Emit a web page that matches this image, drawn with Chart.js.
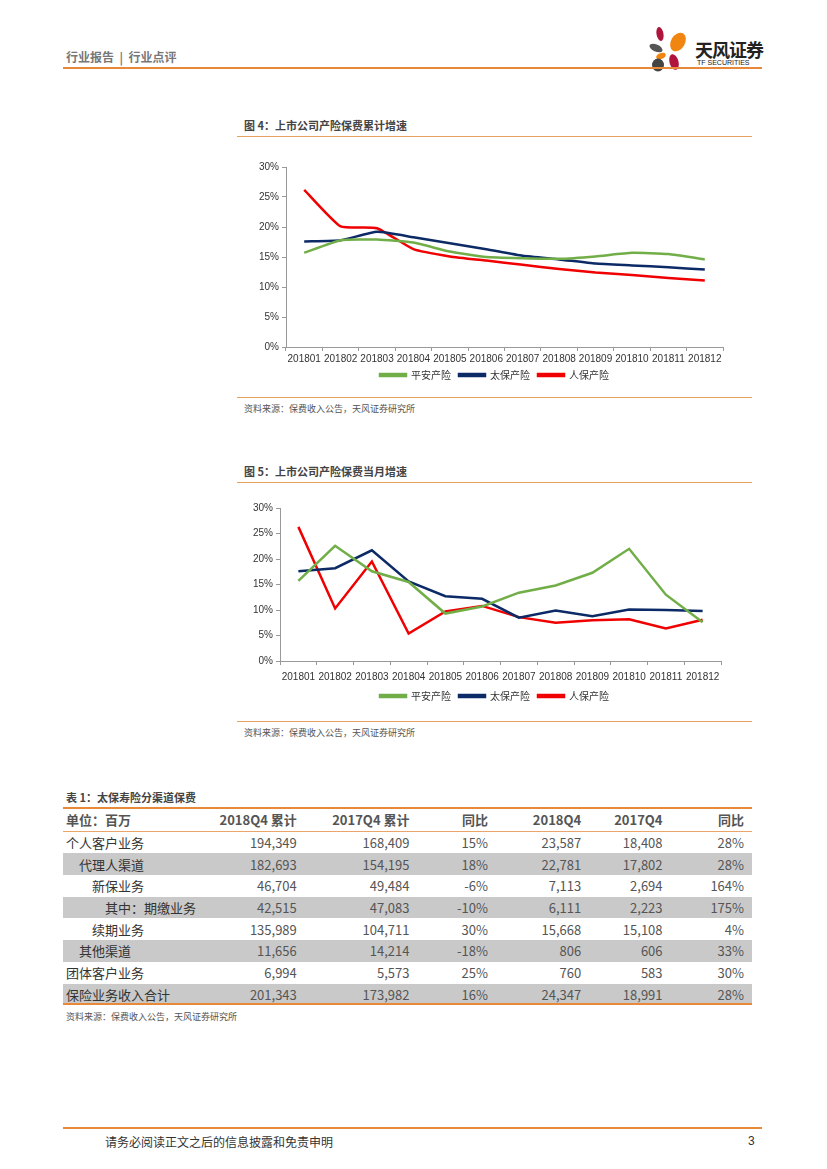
<!DOCTYPE html>
<html>
<head>
<meta charset="utf-8">
<script src="https://cdn.jsdelivr.net/npm/chart.js@4.4.1/dist/chart.umd.min.js"></script>
<style>
  body { margin: 0; width: 827px; height: 1169px; background: #fff; position: relative; font-family: "Liberation Sans", "Noto Sans CJK SC", sans-serif; overflow: hidden; }
  .abs { position: absolute; }
  .rule { position: absolute; height: 2px; background: #E8893A; }
  .thin { position: absolute; height: 1px; background: #E8A060; }
  .title { position: absolute; font-size: 11px; font-weight: bold; color: #444; font-family: "Noto Sans CJK SC", sans-serif; }
  .src { position: absolute; font-size: 9px; color: #555; font-family: "Noto Sans CJK SC", sans-serif; }
  .box { position: absolute; }
  table { border-collapse: collapse; position: absolute; left: 63px; top: 809px; width: 689px; font-family: "Liberation Sans Narrow", "Noto Sans CJK SC", sans-serif; font-size: 13px; color: #555; }
  td { height: 21.7px; padding: 0 8px 0 0; text-align: right; white-space: nowrap; }
  td.name { text-align: left; font-family: "Noto Sans CJK SC", sans-serif; color: #333; padding: 0; }
  tr.head td { font-weight: bold; color: #555; border-bottom: 1px solid #EBA46A; }
  tr.head td.name { color: #555; }
  tr.gray td { background: #C9C9C9; }
</style>
</head>
<body>
<!-- en-tête -->
<div class="abs" style="left:66px;top:48px;font-size:12px;font-weight:bold;color:#777;font-family:'Noto Sans CJK SC';">行业报告 &nbsp;|&nbsp; 行业点评</div>
<svg class="abs" style="left:646px;top:20px;" width="50" height="52">
  <ellipse cx="14" cy="14" rx="3.5" ry="7" fill="#B0143C" transform="rotate(-10 14 14)"/>
  <ellipse cx="32" cy="22" rx="7" ry="10" fill="#F0850F" transform="rotate(30 32 22)"/>
  <ellipse cx="10" cy="28" rx="7" ry="3.5" fill="#555" transform="rotate(25 10 28)"/>
  <ellipse cx="15" cy="36" rx="5" ry="3" fill="#F0850F" transform="rotate(-20 15 36)"/>
  <ellipse cx="28" cy="42" rx="4.5" ry="8" fill="#B0143C" transform="rotate(-15 28 42)"/>
  <ellipse cx="12" cy="45" rx="6" ry="6.5" fill="#444"/>
</svg>
<div class="abs" style="left:695px;top:36px;font-size:18px;font-weight:bold;color:#222;font-family:'Noto Sans CJK SC';letter-spacing:-1px;">天风证券</div>
<div class="abs" style="left:697px;top:59px;font-size:7px;color:#222;">TF SECURITIES</div>
<div class="rule" style="left:63px;top:67px;width:699px;"></div>

<!-- figure 4 -->
<div class="title" style="left:244px;top:117px;">图 4：上市公司产险保费累计增速</div>
<div class="thin" style="left:237px;top:136px;width:515px;"></div>
<div class="box" style="left:237px;top:150px;width:515px;height:240px;"><canvas id="chart1"></canvas></div>
<div class="thin" style="left:237px;top:397px;width:515px;"></div>
<div class="src" style="left:244px;top:402px;">资料来源：保费收入公告，天风证券研究所</div>

<!-- figure 5 -->
<div class="title" style="left:244px;top:463px;">图 5：上市公司产险保费当月增速</div>
<div class="thin" style="left:237px;top:482px;width:515px;"></div>
<div class="box" style="left:237px;top:491px;width:515px;height:220px;"><canvas id="chart2"></canvas></div>
<div class="thin" style="left:237px;top:721px;width:515px;"></div>
<div class="src" style="left:244px;top:726px;">资料来源：保费收入公告，天风证券研究所</div>

<!-- table 1 -->
<div class="title" style="left:66px;top:789px;">表 1：太保寿险分渠道保费</div>
<div class="rule" style="left:63px;top:807px;width:689px;"></div>
<table id="tbl"></table>
<div class="rule" style="left:63px;top:1003px;width:689px;height:2px;"></div>
<div class="src" style="left:66px;top:1010px;">资料来源：保费收入公告，天风证券研究所</div>

<!-- pied de page -->
<div class="rule" style="left:63px;top:1127px;width:699px;"></div>
<div class="abs" style="left:105px;top:1133px;font-size:12px;color:#333;font-family:'Noto Sans CJK SC';">请务必阅读正文之后的信息披露和免责申明</div>
<div class="abs" style="left:748px;top:1134px;font-size:12px;color:#333;">3</div>

<script>
// Données des graphiques
const months = ['201801', '201802', '201803', '201804', '201805', '201806', '201807', '201808', '201809', '201810', '201811', '201812'];
const seriesNames = ['平安产险', '太保产险', '人保产险'];
const seriesColors = ['#72AE48', '#0C2A66', '#F00000'];

// Figure 4 : croissance cumulée (%)
const cumPingan = [15.7, 17.8, 17.9, 17.4, 15.9, 15.0, 14.8, 14.7, 15.1, 15.7, 15.5, 14.6];
const cumTaibao = [17.6, 17.8, 19.2, 18.3, 17.3, 16.3, 15.2, 14.6, 13.9, 13.6, 13.3, 12.9];
const cumRenbao = [26.2, 20.1, 19.8, 16.3, 15.1, 14.4, 13.7, 13.0, 12.4, 12.0, 11.5, 11.1];

// Figure 5 : croissance mensuelle (%)
const monPingan = [15.7, 22.6, 17.6, 15.5, 9.3, 10.7, 13.4, 14.8, 17.3, 22.0, 13.0, 7.6];
const monTaibao = [17.6, 18.2, 21.7, 15.6, 12.7, 12.2, 8.5, 9.9, 8.8, 10.1, 10.0, 9.8];
const monRenbao = [26.3, 10.3, 19.5, 5.4, 9.7, 10.8, 8.6, 7.5, 8.0, 8.2, 6.4, 8.1];

const yTicks = [0, 5, 10, 15, 20, 25, 30];

// Données du tableau
const tableHead = ['单位：百万', '2018Q4 累计', '2017Q4 累计', '同比', '2018Q4', '2017Q4', '同比'];
const rowNames = ['个人客户业务', '代理人渠道', '新保业务', '其中：期缴业务', '续期业务', '其他渠道', '团体客户业务', '保险业务收入合计'];
const rowIndent = [0, 1, 2, 3, 2, 1, 0, 0];
const cum2018 = ['194,349', '182,693', '46,704', '42,515', '135,989', '11,656', '6,994', '201,343'];
const cum2017 = ['168,409', '154,195', '49,484', '47,083', '104,711', '14,214', '5,573', '173,982'];
const cumYoy = ['15%', '18%', '-6%', '-10%', '30%', '-18%', '25%', '16%'];
const q2018 = ['23,587', '22,781', '7,113', '6,111', '15,668', '806', '760', '24,347'];
const q2017 = ['18,408', '17,802', '2,694', '2,223', '15,108', '606', '583', '18,991'];
const qYoy = ['28%', '28%', '164%', '175%', '4%', '33%', '30%', '28%'];

// Construire le tableau
const tbl = document.getElementById('tbl');
const colWidths = [130, 107, 112, 81, 95, 80, 84];
let html = '<tr class="head">' + tableHead.map((h, i) =>
  `<td class="${i === 0 ? 'name' : ''}" style="width:${colWidths[i]}px;${i === 0 ? 'padding-left:3px;' : ''}">${h}</td>`).join('') + '</tr>';
rowNames.forEach((name, i) => {
  html += `<tr class="${i % 2 === 1 ? 'gray' : ''}">
    <td class="name" style="padding-left:${3 + rowIndent[i] * 13}px">${name}</td>
    <td>${cum2018[i]}</td><td>${cum2017[i]}</td><td>${cumYoy[i]}</td>
    <td>${q2018[i]}</td><td>${q2017[i]}</td><td>${qYoy[i]}</td></tr>`;
});
tbl.innerHTML = html;

// Fonction pour créer un graphique linéaire
function makeChart(id, values, yWidth, padRight, padTop, xHeight, tickPad, tension) {
  const ctx = document.getElementById(id).getContext('2d');
  return new Chart(ctx, {
    type: 'line',
    data: {
      labels: months,
      datasets: values.map((data, i) => ({
        label: seriesNames[i],
        data: data,
        borderColor: seriesColors[i],
        backgroundColor: seriesColors[i],
        borderWidth: 2.5,
        pointRadius: 0,
        fill: false,
        tension: tension
      }))
    },
    options: {
      responsive: true,
      maintainAspectRatio: false,
      animation: false,
      layout: { padding: { left: 0, right: 0, top: padTop, bottom: 0 } },
      plugins: {
        legend: {
          display: true,
          position: 'bottom',
          labels: {
            boxWidth: 26,
            boxHeight: 2,
            padding: 8,
            color: '#333',
            font: { size: 10, family: '"Noto Sans CJK SC", sans-serif' }
          }
        },
        tooltip: { enabled: false }
      },
      scales: {
        x: {
          offset: true,
          grid: { offset: true, drawOnChartArea: false, tickLength: 4, color: '#999' },
          border: { color: '#999' },
          ticks: { color: '#333', font: { size: 10, family: '"Liberation Sans"' }, maxRotation: 0, autoSkip: false, padding: tickPad },
          afterFit: (scale) => { scale.height = xHeight; }
        },
        y: {
          min: 0,
          max: 30,
          afterBuildTicks: (scale) => { scale.ticks = yTicks.map(v => ({ value: v })); },
          grid: { drawOnChartArea: false, tickLength: 4, color: '#999' },
          border: { color: '#999' },
          ticks: { color: '#333', font: { size: 10, family: '"Liberation Sans"' }, padding: 3, callback: v => v + '%' },
          afterFit: (scale) => { scale.width = yWidth; }
        },
        // axe vide à droite pour garder la légende centrée sur tout le cadre
        yRight: {
          position: 'right',
          grid: { display: false },
          border: { display: false },
          ticks: { display: false },
          afterFit: (scale) => { scale.width = padRight; }
        }
      }
    }
  });
}

makeChart('chart1', [cumPingan, cumTaibao, cumRenbao], 49, 29, 17, 15, 2, 0.15);
makeChart('chart2', [monPingan, monTaibao, monRenbao], 43, 31, 17, 22, 6, 0);
</script>
</body>
</html>
